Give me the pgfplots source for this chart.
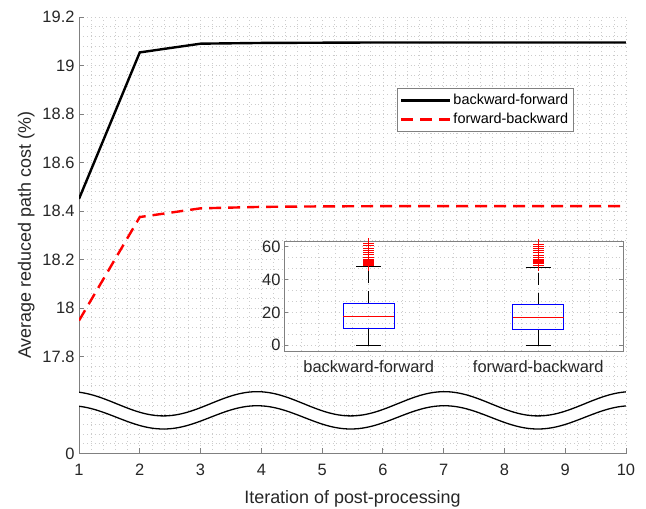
\documentclass[border=0pt]{standalone}
\usepackage{fontspec}
\setmainfont{Liberation Sans}
\usepackage{pgfplots}
\pgfplotsset{compat=1.18}
\usepgfplotslibrary{statistics}
\definecolor{txt}{gray}{0.15}
\definecolor{axc}{gray}{0.5}
\definecolor{grd}{gray}{0.8}
\pgfplotsset{
  mygrid/.style={
    major grid style={grd, line width=0.6bp, dash pattern=on 0.7bp off 3.2bp},
    minor grid style={grd, line width=0.6bp, dash pattern=on 0.7bp off 3.2bp},
  }
}
\begin{document}
\begin{tikzpicture}
\begin{axis}[
  at={(0,0)}, anchor=south west,
  scale only axis, width=547bp, height=436.5bp,
  xmin=1, xmax=10, ymin=17.4, ymax=19.2,
  axis x line*=bottom, axis y line*=left,
  xtick={1,2,3,4,5,6,7,8,9,10},
  ytick={17.4,17.8,18,18.2,18.4,18.6,18.8,19,19.2},
  yticklabels={0,17.8,18,18.2,18.4,18.6,18.8,19,19.2},
  minor xtick={1.2,1.4,...,9.9},
  minor ytick={17.44,17.48,...,19.17},
  grid=both, mygrid,
  axis line style={axc, line width=0.8bp},
  major tick length=5bp, minor tick length=0pt,
  tick style={axc, line width=0.8bp},
  /pgf/number format/assume math mode=true,
  tick label style={font=\fontsize{16.5}{19}\selectfont, text=txt},
  xticklabel style={yshift=-7bp},
  yticklabel style={xshift=-1bp},
  xlabel={Iteration of post-processing},
  ylabel={Average reduced path cost (\%)},
  every axis x label/.style={at={(axis description cs:0.5,-0.1141)}, anchor=base, font=\fontsize{18}{21}\selectfont, text=txt},
  every axis y label/.style={at={(axis description cs:-0.0880,0.5)}, anchor=base, rotate=90, font=\fontsize{18}{21}\selectfont, text=txt},
  legend style={at={(0.581,0.837)}, anchor=north west, draw=axc, line width=0.6bp, fill=white,
    font=\fontsize{14.5}{17}\selectfont, inner xsep=3bp, inner ysep=4bp, row sep=3bp, cells={anchor=west}},
  legend image code/.code={\draw[#1] (0bp,0bp) -- (49bp,0bp);},
]
\addplot[black, line width=2.4bp] coordinates {
 (1,18.450) (2,19.054) (3,19.090) (4,19.093) (5,19.094)
 (6,19.095) (7,19.095) (8,19.095) (9,19.095) (10,19.095)};
\addlegendentry{backward-forward}
\addplot[red, line width=2.4bp, dash pattern=on 12bp off 7bp] coordinates {
 (1,17.948) (2,18.375) (3,18.411) (4,18.417) (5,18.419)
 (6,18.420) (7,18.420) (8,18.420) (9,18.420) (10,18.420)};
\addlegendentry{forward-backward}
% axis break band
\fill[white] (axis cs:0.85,17.655) cos (axis cs:1.62,17.605) sin (axis cs:2.39,17.555)
  cos (axis cs:3.16,17.605) sin (axis cs:3.93,17.655) cos (axis cs:4.70,17.605)
  sin (axis cs:5.47,17.555) cos (axis cs:6.24,17.605) sin (axis cs:7.01,17.655)
  cos (axis cs:7.78,17.605) sin (axis cs:8.55,17.555) cos (axis cs:9.32,17.605)
  sin (axis cs:10.09,17.655) -- (axis cs:10.09,17.597)
  cos (axis cs:9.32,17.549) sin (axis cs:8.55,17.501) cos (axis cs:7.78,17.549)
  sin (axis cs:7.01,17.597) cos (axis cs:6.24,17.549) sin (axis cs:5.47,17.501)
  cos (axis cs:4.70,17.549) sin (axis cs:3.93,17.597) cos (axis cs:3.16,17.549)
  sin (axis cs:2.39,17.501) cos (axis cs:1.62,17.549) sin (axis cs:0.85,17.597) -- cycle;
\draw[black, line width=1.3bp] (axis cs:0.85,17.655) cos (axis cs:1.62,17.605) sin (axis cs:2.39,17.555)
  cos (axis cs:3.16,17.605) sin (axis cs:3.93,17.655) cos (axis cs:4.70,17.605)
  sin (axis cs:5.47,17.555) cos (axis cs:6.24,17.605) sin (axis cs:7.01,17.655)
  cos (axis cs:7.78,17.605) sin (axis cs:8.55,17.555) cos (axis cs:9.32,17.605)
  sin (axis cs:10.09,17.655);
\draw[black, line width=1.3bp] (axis cs:0.85,17.597) cos (axis cs:1.62,17.549) sin (axis cs:2.39,17.501)
  cos (axis cs:3.16,17.549) sin (axis cs:3.93,17.597) cos (axis cs:4.70,17.549)
  sin (axis cs:5.47,17.501) cos (axis cs:6.24,17.549) sin (axis cs:7.01,17.597)
  cos (axis cs:7.78,17.549) sin (axis cs:8.55,17.501) cos (axis cs:9.32,17.549)
  sin (axis cs:10.09,17.597);
\end{axis}

\begin{axis}[
  at={(205bp,102.5bp)}, anchor=south west,
  scale only axis, width=339bp, height=110bp,
  xmin=0.5, xmax=2.5, ymin=-3.5, ymax=63.5,
  xtick={1,2}, xticklabels={backward-forward,forward-backward},
  ytick={0,20,40,60},
  minor xtick={0.6,0.7,...,2.45},
  minor ytick={6.667,13.333,26.667,33.333,46.667,53.333},
  xtick style={draw=none},
  grid=both, mygrid,
  axis background/.style={fill=white},
  axis line style={axc, line width=0.8bp},
  major tick length=4bp, minor tick length=0pt,
  ytick style={axc, line width=0.8bp},
  /pgf/number format/assume math mode=true,
  tick label style={font=\fontsize{16.5}{19}\selectfont, text=txt},
  xticklabel style={yshift=-6bp},
  boxplot/draw direction=y,
  boxplot/draw/box/.code={%
    \draw[blue, line width=0.9bp]
      (boxplot box cs:\pgfplotsboxplotvalue{lower quartile},0) rectangle
      (boxplot box cs:\pgfplotsboxplotvalue{upper quartile},1);},
  boxplot/draw/median/.code={%
    \draw[red, line width=0.9bp]
      (boxplot box cs:\pgfplotsboxplotvalue{median},0) --
      (boxplot box cs:\pgfplotsboxplotvalue{median},1);},
  boxplot/draw/lower whisker/.code={%
    \draw[black, line width=0.9bp]
      (boxplot cs:\pgfplotsboxplotvalue{lower quartile}) --
      (boxplot cs:\pgfplotsboxplotvalue{lower whisker});
    \draw[black, line width=0.9bp]
      (boxplot whisker cs:\pgfplotsboxplotvalue{lower whisker},0) --
      (boxplot whisker cs:\pgfplotsboxplotvalue{lower whisker},1);},
  boxplot/draw/upper whisker/.code={%
    \draw[black, line width=0.9bp, dash pattern=on 12bp off 8bp]
      (boxplot cs:\pgfplotsboxplotvalue{upper quartile}) --
      (boxplot cs:\pgfplotsboxplotvalue{upper whisker});
    \draw[black, line width=0.9bp]
      (boxplot whisker cs:\pgfplotsboxplotvalue{upper whisker},0) --
      (boxplot whisker cs:\pgfplotsboxplotvalue{upper whisker},1);},
]
\addplot[red, mark=+, mark size=5.5bp, mark options={line width=1bp},
  boxplot prepared={draw position=1, median=17.5, upper quartile=25.5,
    lower quartile=10.2, upper whisker=47.9, lower whisker=0,
    box extend=0.3, whisker extend=0.15}]
  table[row sep=\\, y index=0] {data\\ 48.3\\ 48.8\\ 49.3\\ 49.8\\ 50.3\\ 50.8\\ 51.3\\ 51.8\\ 52.4\\ 53.5\\ 55.0\\ 56.5\\ 57.7\\ 59.2\\ 60.5\\ 62.0\\};
\addplot[red, mark=+, mark size=5.5bp, mark options={line width=1bp},
  boxplot prepared={draw position=2, median=17.1, upper quartile=24.7,
    lower quartile=9.6, upper whisker=47.1, lower whisker=0,
    box extend=0.3, whisker extend=0.15}]
  table[row sep=\\, y index=0] {data\\ 48.7\\ 49.5\\ 50.2\\ 50.8\\ 51.6\\ 52.4\\ 53.2\\ 54.7\\ 56.2\\ 57.7\\ 59.2\\ 60.3\\ 61.5\\};
\end{axis}
\pgfresetboundingbox
\path[use as bounding box] (-79bp,-55.5bp) rectangle (567bp,453.5bp);
\end{tikzpicture}
\end{document}
